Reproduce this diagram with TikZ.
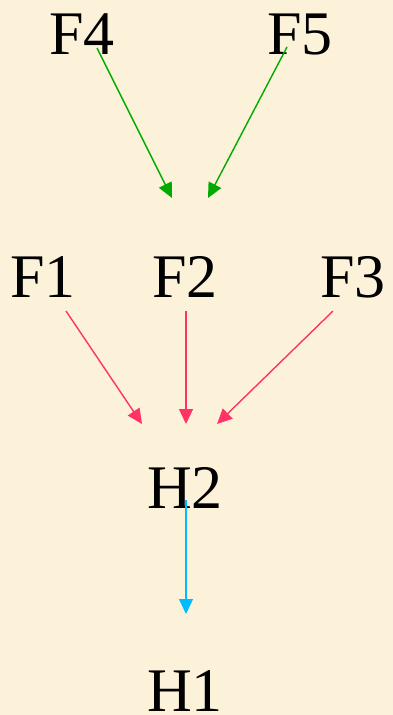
\documentclass[tikz,border=0pt]{standalone}
\usepackage{fontspec}
\setmainfont{Liberation Serif}
\usetikzlibrary{arrows.meta}
\definecolor{bgc}{RGB}{252,242,218}
\definecolor{grn}{RGB}{0,170,0}
\definecolor{rd}{RGB}{255,51,102}
\definecolor{bl}{RGB}{0,187,255}
\tikzset{
  lbl/.style={anchor=base, inner sep=0pt, font=\fontsize{62}{70}\selectfont},
  conn/.style={line width=1.4pt, -{Triangle[length=15pt,width=14pt]}},
  gconn/.style={conn, draw=grn, fill=grn},
  rconn/.style={conn, draw=rd, fill=rd},
  bconn/.style={conn, draw=bl, fill=bl}
}
\begin{document}
\begin{tikzpicture}[x=1pt,y=-1pt]
\fill[bgc] (0,0) rectangle (393,715);
\useasboundingbox (0,0) rectangle (393,715);
\node[lbl] (F4) at (82,54) {F4};
\node[lbl] (F5) at (300,54) {F5};
\node[lbl] (F1) at (43,297) {F1};
\node[lbl] (F2) at (185,297) {F2};
\node[lbl] (F3) at (353,297) {F3};
\node[lbl] (H2) at (185,508) {H2};
\node[lbl] (H1) at (185,711) {H1};
% connector ends
\coordinate (s4) at (97,48);
\coordinate (t4) at (172,198);
\coordinate (s5) at (287,47);
\coordinate (t5) at (208,198);
\coordinate (s1) at (66,311);
\coordinate (t1) at (142,424);
\coordinate (s2) at (186,311);
\coordinate (t2) at (186,424);
\coordinate (s3) at (333,311);
\coordinate (t3) at (217,424);
\coordinate (sh) at (186,500);
\coordinate (th) at (186,614);
\draw[gconn] (s4) -- (t4);
\draw[gconn] (s5) -- (t5);
\draw[rconn] (s1) -- (t1);
\draw[rconn] (s2) -- (t2);
\draw[rconn] (s3) -- (t3);
\draw[bconn] (sh) -- (th);
\end{tikzpicture}
\end{document}
